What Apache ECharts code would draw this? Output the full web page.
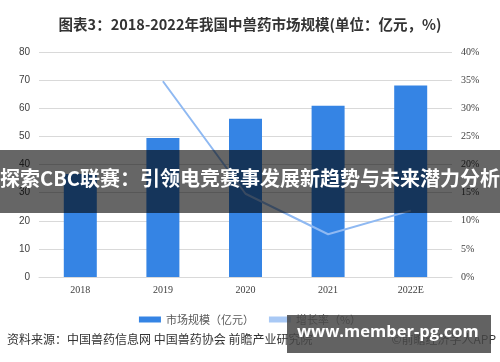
<!DOCTYPE html>
<html>
<head>
<meta charset="utf-8">
<script src="https://cdn.jsdelivr.net/npm/echarts@6/dist/echarts.min.js"></script>
<style>
html,body{margin:0;padding:0;background:#fff;}
#c{width:500px;height:362px;}
</style>
</head>
<body>
<div id="c"></div>
<script>
var categories = ['2018', '2019', '2020', '2021', '2022E'];
var marketSize = [36.6, 49.4, 56.3, 60.9, 68.1];
var growthRate = [null, 34.8, 14.8, 7.6, 11.8];
var leftTicks = [0, 80, 10];
var rightTicks = [0, 40, 5];

var chart = echarts.init(document.getElementById('c'), null, {renderer: 'canvas'});
var sans = 'Liberation Sans, Arial, sans-serif';
var cjk = '"Noto Sans CJK SC", "Liberation Sans", sans-serif';
chart.setOption({
  animation: false,
  backgroundColor: '#fff',
  title: {
    text: '图表3：2018-2022年我国中兽药市场规模(单位：亿元，%)',
    left: 'center',
    top: 12,
    textStyle: {fontSize: 14.5, fontWeight: 'bold', color: '#333', fontFamily: cjk}
  },
  grid: {left: 39, right: 48, top: 52, bottom: 85, containLabel: false},
  legend: {
    left: 'center',
    top: 309,
    itemWidth: 22,
    itemHeight: 6,
    itemGap: 15,
    textStyle: {fontSize: 11, color: '#595959', fontFamily: cjk},
    data: [
      {name: '市场规模（亿元）', icon: 'rect'},
      {name: '增长率（%）', icon: 'rect'}
    ]
  },
  xAxis: {
    type: 'category',
    data: categories,
    axisLine: {show: true, lineStyle: {color: '#d9d9d9'}},
    axisTick: {show: false},
    axisLabel: {color: '#404040', fontSize: 10, margin: 8, fontFamily: 'Liberation Serif, Times New Roman, serif'}
  },
  yAxis: [
    {
      type: 'value', min: leftTicks[0], max: leftTicks[1], interval: leftTicks[2],
      axisLine: {show: false}, axisTick: {show: false},
      splitLine: {lineStyle: {color: '#d9d9d9'}},
      axisLabel: {color: '#404040', fontSize: 10, margin: 9, fontFamily: sans}
    },
    {
      type: 'value', min: rightTicks[0], max: rightTicks[1], interval: rightTicks[2],
      axisLine: {show: false}, axisTick: {show: false},
      splitLine: {show: false},
      axisLabel: {color: '#404040', fontSize: 10, margin: 9, formatter: '{value}%', fontFamily: 'Liberation Serif, serif'}
    }
  ],
  series: [
    {
      name: '市场规模（亿元）',
      type: 'bar',
      data: marketSize,
      barWidth: 33,
      itemStyle: {color: '#3584e4'}
    },
    {
      name: '增长率（%）',
      type: 'line',
      yAxisIndex: 1,
      data: growthRate,
      symbol: 'none',
      lineStyle: {color: '#8fb9f2', width: 2},
      itemStyle: {color: '#a9c9f5'}
    }
  ],
  graphic: [
    {
      type: 'text', left: 7, top: 333, z: 50,
      style: {text: '资料来源：中国兽药信息网 中国兽药协会 前瞻产业研究院', fontSize: 12, fill: '#333', fontFamily: cjk}
    },
    {
      type: 'text', right: 4, top: 333, z: 50,
      style: {text: '©前瞻经济学人APP', fontSize: 12, fill: '#333', fontFamily: cjk}
    },
    {
      type: 'rect', left: 0, top: 150, z: 100,
      shape: {width: 500, height: 63},
      style: {fill: 'rgba(0,0,0,0.6)'}
    },
    {
      type: 'text', left: 'center', top: 168, z: 101,
      style: {text: '探索CBC联赛：引领电竞赛事发展新趋势与未来潜力分析', fontSize: 20, fontWeight: 'bold', fill: '#fff', fontFamily: cjk}
    },
    {
      type: 'rect', left: 287, top: 315, z: 100,
      shape: {width: 204, height: 38},
      style: {fill: 'rgba(70,70,70,0.85)'}
    },
    {
      type: 'text', left: 297, top: 324, z: 101,
      style: {text: 'www.member-pg.com', fontSize: 16.5, fontWeight: 'bold', fill: '#fff', fontFamily: '"Open Sans", "Noto Sans", sans-serif'}
    }
  ]
});
</script>
</body>
</html>
